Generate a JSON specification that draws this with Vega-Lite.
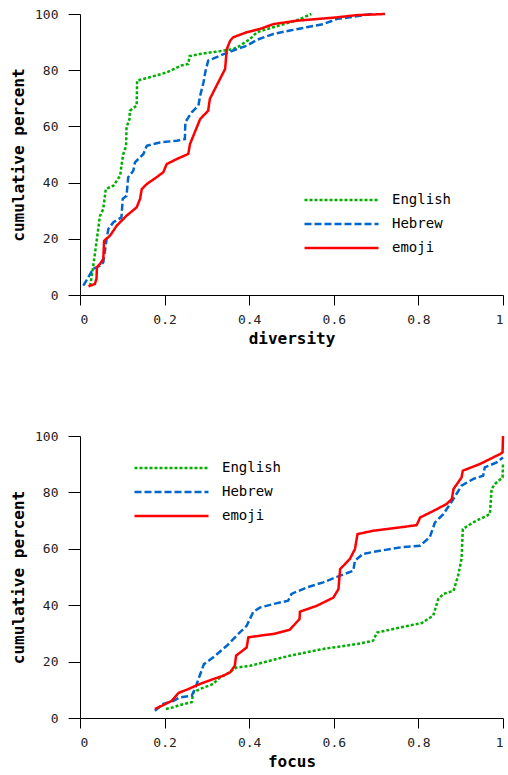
{
  "$schema": "https://vega.github.io/schema/vega-lite/v6.json",
  "background": "white",
  "padding": {"left": 10, "top": 8, "right": 1, "bottom": 4},
  "spacing": 84,
  "config": {
    "view": {"stroke": null},
    "axis": {
      "grid": false,
      "labelFont": "DejaVu Sans Mono",
      "labelFontSize": 13,
      "labelColor": "#222",
      "titleFont": "DejaVu Sans Mono",
      "titleFontSize": 16,
      "titleFontWeight": "bold",
      "titleColor": "#000",
      "domainColor": "#000",
      "tickColor": "#000"
    },
    "axisX": {"tickSize": 10, "labelPadding": 8, "titlePadding": 4},
    "axisY": {"tickSize": 12, "labelPadding": 10, "titlePadding": 8},
    "legend": {
      "symbolType": "stroke",
      "symbolSize": 5476,
      "symbolStrokeWidth": 2.5,
      "clipHeight": 14,
      "rowPadding": 10,
      "padding": 0,
      "labelOffset": 12,
      "labelFont": "DejaVu Sans Mono",
      "labelFontSize": 14,
      "labelColor": "#000"
    }
  },
  "resolve": {
    "scale": {"color": "independent", "strokeDash": "independent"},
    "legend": {"color": "independent", "strokeDash": "independent"}
  },
  "vconcat": [
    {
      "width": 423,
      "height": 281,
      "data": {
        "values": [
          {"lang": "English", "v": 0.024, "p": 3.2},
          {"lang": "English", "v": 0.031, "p": 10},
          {"lang": "English", "v": 0.040, "p": 20},
          {"lang": "English", "v": 0.047, "p": 28},
          {"lang": "English", "v": 0.055, "p": 30.6},
          {"lang": "English", "v": 0.061, "p": 37.7},
          {"lang": "English", "v": 0.079, "p": 38.9},
          {"lang": "English", "v": 0.095, "p": 42.5},
          {"lang": "English", "v": 0.098, "p": 46},
          {"lang": "English", "v": 0.102, "p": 50},
          {"lang": "English", "v": 0.109, "p": 53},
          {"lang": "English", "v": 0.110, "p": 59.7},
          {"lang": "English", "v": 0.117, "p": 62.6},
          {"lang": "English", "v": 0.118, "p": 65.6},
          {"lang": "English", "v": 0.134, "p": 67.4},
          {"lang": "English", "v": 0.135, "p": 76.3},
          {"lang": "English", "v": 0.165, "p": 77.5},
          {"lang": "English", "v": 0.205, "p": 79.2},
          {"lang": "English", "v": 0.240, "p": 81.7},
          {"lang": "English", "v": 0.256, "p": 82.2},
          {"lang": "English", "v": 0.259, "p": 85},
          {"lang": "English", "v": 0.284, "p": 85.8},
          {"lang": "English", "v": 0.323, "p": 86.6},
          {"lang": "English", "v": 0.362, "p": 87.5},
          {"lang": "English", "v": 0.378, "p": 88.7},
          {"lang": "English", "v": 0.402, "p": 91.1},
          {"lang": "English", "v": 0.418, "p": 93.5},
          {"lang": "English", "v": 0.457, "p": 95.3},
          {"lang": "English", "v": 0.496, "p": 97},
          {"lang": "English", "v": 0.520, "p": 98.2},
          {"lang": "English", "v": 0.547, "p": 100},
          {"lang": "Hebrew", "v": 0.008, "p": 3.3},
          {"lang": "Hebrew", "v": 0.031, "p": 9.3},
          {"lang": "Hebrew", "v": 0.047, "p": 10.4},
          {"lang": "Hebrew", "v": 0.055, "p": 11.6},
          {"lang": "Hebrew", "v": 0.063, "p": 19.9},
          {"lang": "Hebrew", "v": 0.067, "p": 23.5},
          {"lang": "Hebrew", "v": 0.079, "p": 25.9},
          {"lang": "Hebrew", "v": 0.098, "p": 27.6},
          {"lang": "Hebrew", "v": 0.101, "p": 34.2},
          {"lang": "Hebrew", "v": 0.110, "p": 35.3},
          {"lang": "Hebrew", "v": 0.114, "p": 41.9},
          {"lang": "Hebrew", "v": 0.126, "p": 44.2},
          {"lang": "Hebrew", "v": 0.130, "p": 47.2},
          {"lang": "Hebrew", "v": 0.150, "p": 50.2},
          {"lang": "Hebrew", "v": 0.158, "p": 53.1},
          {"lang": "Hebrew", "v": 0.189, "p": 54.3},
          {"lang": "Hebrew", "v": 0.229, "p": 54.9},
          {"lang": "Hebrew", "v": 0.248, "p": 55.5},
          {"lang": "Hebrew", "v": 0.249, "p": 61.5},
          {"lang": "Hebrew", "v": 0.264, "p": 65},
          {"lang": "Hebrew", "v": 0.280, "p": 67.4},
          {"lang": "Hebrew", "v": 0.284, "p": 70.9},
          {"lang": "Hebrew", "v": 0.292, "p": 75.7},
          {"lang": "Hebrew", "v": 0.296, "p": 79.2},
          {"lang": "Hebrew", "v": 0.303, "p": 83.4},
          {"lang": "Hebrew", "v": 0.331, "p": 85.2},
          {"lang": "Hebrew", "v": 0.362, "p": 87},
          {"lang": "Hebrew", "v": 0.394, "p": 88.7},
          {"lang": "Hebrew", "v": 0.418, "p": 90.8},
          {"lang": "Hebrew", "v": 0.457, "p": 92.9},
          {"lang": "Hebrew", "v": 0.496, "p": 94.1},
          {"lang": "Hebrew", "v": 0.536, "p": 95.3},
          {"lang": "Hebrew", "v": 0.575, "p": 96.4},
          {"lang": "Hebrew", "v": 0.607, "p": 98.2},
          {"lang": "Hebrew", "v": 0.654, "p": 99.2},
          {"lang": "Hebrew", "v": 0.690, "p": 100},
          {"lang": "emoji", "v": 0.020, "p": 3.1},
          {"lang": "emoji", "v": 0.035, "p": 3.9},
          {"lang": "emoji", "v": 0.039, "p": 5.7},
          {"lang": "emoji", "v": 0.040, "p": 9.9},
          {"lang": "emoji", "v": 0.047, "p": 11},
          {"lang": "emoji", "v": 0.055, "p": 12.8},
          {"lang": "emoji", "v": 0.057, "p": 19.3},
          {"lang": "emoji", "v": 0.071, "p": 21.1},
          {"lang": "emoji", "v": 0.087, "p": 24.7},
          {"lang": "emoji", "v": 0.110, "p": 28.2},
          {"lang": "emoji", "v": 0.134, "p": 31.2},
          {"lang": "emoji", "v": 0.142, "p": 34.2},
          {"lang": "emoji", "v": 0.146, "p": 37.7},
          {"lang": "emoji", "v": 0.158, "p": 39.5},
          {"lang": "emoji", "v": 0.181, "p": 41.9},
          {"lang": "emoji", "v": 0.197, "p": 43.7},
          {"lang": "emoji", "v": 0.205, "p": 46.6},
          {"lang": "emoji", "v": 0.229, "p": 48.4},
          {"lang": "emoji", "v": 0.256, "p": 50.2},
          {"lang": "emoji", "v": 0.260, "p": 53.7},
          {"lang": "emoji", "v": 0.284, "p": 62.6},
          {"lang": "emoji", "v": 0.303, "p": 65.6},
          {"lang": "emoji", "v": 0.307, "p": 69.8},
          {"lang": "emoji", "v": 0.331, "p": 76.9},
          {"lang": "emoji", "v": 0.343, "p": 80.4},
          {"lang": "emoji", "v": 0.347, "p": 87.5},
          {"lang": "emoji", "v": 0.355, "p": 90.5},
          {"lang": "emoji", "v": 0.362, "p": 91.7},
          {"lang": "emoji", "v": 0.394, "p": 93.5},
          {"lang": "emoji", "v": 0.426, "p": 94.7},
          {"lang": "emoji", "v": 0.457, "p": 96.4},
          {"lang": "emoji", "v": 0.512, "p": 97.6},
          {"lang": "emoji", "v": 0.560, "p": 98.2},
          {"lang": "emoji", "v": 0.607, "p": 98.8},
          {"lang": "emoji", "v": 0.654, "p": 99.6},
          {"lang": "emoji", "v": 0.721, "p": 100}
        ]
      },
      "mark": {"type": "line", "strokeWidth": 2.5},
      "encoding": {
        "x": {"field": "v", "type": "quantitative", "scale": {"domain": [0, 1], "nice": false},
              "axis": {"title": "diversity", "values": [0, 0.2, 0.4, 0.6, 0.8, 1], "format": "~g"}},
        "y": {"field": "p", "type": "quantitative", "scale": {"domain": [0, 100], "nice": false},
              "axis": {"title": "cumulative percent", "values": [0, 20, 40, 60, 80, 100]}},
        "color": {"field": "lang", "type": "nominal",
                  "scale": {"domain": ["English", "Hebrew", "emoji"], "range": ["#00b000", "#0066cc", "#ff0000"]},
                  "legend": {"title": null, "orient": "none", "legendX": 223, "legendY": 179}},
        "strokeDash": {"field": "lang", "type": "nominal",
                  "scale": {"domain": ["English", "Hebrew", "emoji"], "range": [[3, 2], [7, 3], [1, 0]]},
                  "legend": {"title": null, "orient": "none", "legendX": 223, "legendY": 179}}
      }
    },
    {
      "width": 423,
      "height": 282,
      "data": {
        "values": [
          {"lang": "English", "v": 0.203, "p": 3.2},
          {"lang": "English", "v": 0.221, "p": 3.8},
          {"lang": "English", "v": 0.236, "p": 4.6},
          {"lang": "English", "v": 0.264, "p": 5.6},
          {"lang": "English", "v": 0.268, "p": 9.1},
          {"lang": "English", "v": 0.284, "p": 10.3},
          {"lang": "English", "v": 0.315, "p": 12.1},
          {"lang": "English", "v": 0.331, "p": 14.4},
          {"lang": "English", "v": 0.347, "p": 15.6},
          {"lang": "English", "v": 0.370, "p": 17.9},
          {"lang": "English", "v": 0.402, "p": 18.5},
          {"lang": "English", "v": 0.418, "p": 19.1},
          {"lang": "English", "v": 0.496, "p": 22.1},
          {"lang": "English", "v": 0.575, "p": 24.5},
          {"lang": "English", "v": 0.654, "p": 26.2},
          {"lang": "English", "v": 0.693, "p": 27.4},
          {"lang": "English", "v": 0.702, "p": 30.3},
          {"lang": "English", "v": 0.757, "p": 32.1},
          {"lang": "English", "v": 0.808, "p": 33.7},
          {"lang": "English", "v": 0.835, "p": 36.3},
          {"lang": "English", "v": 0.847, "p": 42.2},
          {"lang": "English", "v": 0.859, "p": 44},
          {"lang": "English", "v": 0.883, "p": 45.1},
          {"lang": "English", "v": 0.894, "p": 50.5},
          {"lang": "English", "v": 0.902, "p": 56.4},
          {"lang": "English", "v": 0.905, "p": 67},
          {"lang": "English", "v": 0.930, "p": 69.4},
          {"lang": "English", "v": 0.969, "p": 72.3},
          {"lang": "English", "v": 0.973, "p": 81.2},
          {"lang": "English", "v": 0.981, "p": 83},
          {"lang": "English", "v": 0.999, "p": 85.3},
          {"lang": "English", "v": 1.0, "p": 90.6},
          {"lang": "Hebrew", "v": 0.177, "p": 2.6},
          {"lang": "Hebrew", "v": 0.197, "p": 5},
          {"lang": "Hebrew", "v": 0.221, "p": 6.1},
          {"lang": "Hebrew", "v": 0.236, "p": 7.3},
          {"lang": "Hebrew", "v": 0.264, "p": 7.9},
          {"lang": "Hebrew", "v": 0.272, "p": 10.3},
          {"lang": "Hebrew", "v": 0.280, "p": 13.8},
          {"lang": "Hebrew", "v": 0.293, "p": 19.1},
          {"lang": "Hebrew", "v": 0.315, "p": 21.5},
          {"lang": "Hebrew", "v": 0.347, "p": 25.6},
          {"lang": "Hebrew", "v": 0.378, "p": 30.4},
          {"lang": "Hebrew", "v": 0.394, "p": 32.7},
          {"lang": "Hebrew", "v": 0.410, "p": 37.7},
          {"lang": "Hebrew", "v": 0.426, "p": 39.2},
          {"lang": "Hebrew", "v": 0.457, "p": 40.4},
          {"lang": "Hebrew", "v": 0.492, "p": 41.6},
          {"lang": "Hebrew", "v": 0.500, "p": 44},
          {"lang": "Hebrew", "v": 0.536, "p": 46.3},
          {"lang": "Hebrew", "v": 0.575, "p": 48.1},
          {"lang": "Hebrew", "v": 0.615, "p": 50.5},
          {"lang": "Hebrew", "v": 0.646, "p": 52.2},
          {"lang": "Hebrew", "v": 0.650, "p": 55.8},
          {"lang": "Hebrew", "v": 0.669, "p": 58.2},
          {"lang": "Hebrew", "v": 0.709, "p": 59.3},
          {"lang": "Hebrew", "v": 0.757, "p": 60.5},
          {"lang": "Hebrew", "v": 0.804, "p": 61.1},
          {"lang": "Hebrew", "v": 0.827, "p": 64.1},
          {"lang": "Hebrew", "v": 0.839, "p": 69.3},
          {"lang": "Hebrew", "v": 0.859, "p": 72.3},
          {"lang": "Hebrew", "v": 0.883, "p": 77.7},
          {"lang": "Hebrew", "v": 0.902, "p": 82.4},
          {"lang": "Hebrew", "v": 0.930, "p": 84.8},
          {"lang": "Hebrew", "v": 0.953, "p": 85.9},
          {"lang": "Hebrew", "v": 0.957, "p": 88.9},
          {"lang": "Hebrew", "v": 0.985, "p": 90.6},
          {"lang": "Hebrew", "v": 1.0, "p": 92.4},
          {"lang": "emoji", "v": 0.177, "p": 3.2},
          {"lang": "emoji", "v": 0.197, "p": 4.6},
          {"lang": "emoji", "v": 0.217, "p": 6.1},
          {"lang": "emoji", "v": 0.233, "p": 8.9},
          {"lang": "emoji", "v": 0.252, "p": 10},
          {"lang": "emoji", "v": 0.284, "p": 12.1},
          {"lang": "emoji", "v": 0.315, "p": 13.8},
          {"lang": "emoji", "v": 0.339, "p": 15},
          {"lang": "emoji", "v": 0.355, "p": 16.2},
          {"lang": "emoji", "v": 0.366, "p": 18.5},
          {"lang": "emoji", "v": 0.369, "p": 22.1},
          {"lang": "emoji", "v": 0.394, "p": 25},
          {"lang": "emoji", "v": 0.398, "p": 28.6},
          {"lang": "emoji", "v": 0.426, "p": 29.2},
          {"lang": "emoji", "v": 0.457, "p": 29.8},
          {"lang": "emoji", "v": 0.496, "p": 31.3},
          {"lang": "emoji", "v": 0.519, "p": 35.1},
          {"lang": "emoji", "v": 0.520, "p": 37.7},
          {"lang": "emoji", "v": 0.560, "p": 39.8},
          {"lang": "emoji", "v": 0.599, "p": 42.7},
          {"lang": "emoji", "v": 0.611, "p": 45.7},
          {"lang": "emoji", "v": 0.615, "p": 52.8},
          {"lang": "emoji", "v": 0.638, "p": 56.4},
          {"lang": "emoji", "v": 0.650, "p": 59.9},
          {"lang": "emoji", "v": 0.656, "p": 65.2},
          {"lang": "emoji", "v": 0.693, "p": 66.4},
          {"lang": "emoji", "v": 0.757, "p": 67.6},
          {"lang": "emoji", "v": 0.796, "p": 68.4},
          {"lang": "emoji", "v": 0.804, "p": 71.1},
          {"lang": "emoji", "v": 0.835, "p": 73.4},
          {"lang": "emoji", "v": 0.867, "p": 75.9},
          {"lang": "emoji", "v": 0.879, "p": 77.7},
          {"lang": "emoji", "v": 0.883, "p": 81.2},
          {"lang": "emoji", "v": 0.902, "p": 85.3},
          {"lang": "emoji", "v": 0.905, "p": 87.7},
          {"lang": "emoji", "v": 0.946, "p": 90.1},
          {"lang": "emoji", "v": 0.993, "p": 93.6},
          {"lang": "emoji", "v": 0.999, "p": 94.2},
          {"lang": "emoji", "v": 1.0, "p": 100}
        ]
      },
      "mark": {"type": "line", "strokeWidth": 2.5},
      "encoding": {
        "x": {"field": "v", "type": "quantitative", "scale": {"domain": [0, 1], "nice": false},
              "axis": {"title": "focus", "values": [0, 0.2, 0.4, 0.6, 0.8, 1], "format": "~g"}},
        "y": {"field": "p", "type": "quantitative", "scale": {"domain": [0, 100], "nice": false},
              "axis": {"title": "cumulative percent", "values": [0, 20, 40, 60, 80, 100]}},
        "color": {"field": "lang", "type": "nominal",
                  "scale": {"domain": ["English", "Hebrew", "emoji"], "range": ["#00b000", "#0066cc", "#ff0000"]},
                  "legend": {"title": null, "orient": "none", "legendX": 53, "legendY": 25}},
        "strokeDash": {"field": "lang", "type": "nominal",
                  "scale": {"domain": ["English", "Hebrew", "emoji"], "range": [[3, 2], [7, 3], [1, 0]]},
                  "legend": {"title": null, "orient": "none", "legendX": 53, "legendY": 25}}
      }
    }
  ]
}
